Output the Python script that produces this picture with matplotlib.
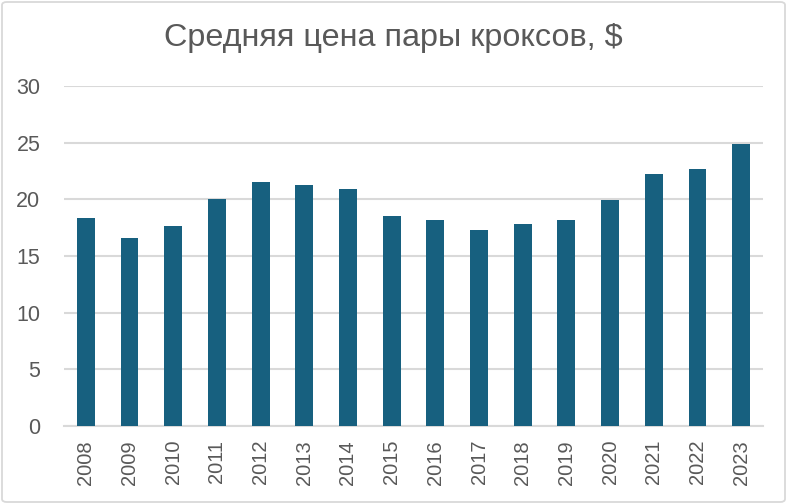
import matplotlib.pyplot as plt
from matplotlib.patches import FancyBboxPatch

# Average price of a pair of Crocs, USD
years = ["2008", "2009", "2010", "2011", "2012", "2013", "2014", "2015",
         "2016", "2017", "2018", "2019", "2020", "2021", "2022", "2023"]
prices = [18.34, 16.57, 17.63, 20.01, 21.51, 21.25, 20.89, 18.51,
          18.16, 17.28, 17.81, 18.16, 19.92, 22.22, 22.66, 24.86]
y_ticks = [0, 5, 10, 15, 20, 25, 30]

BAR_COLOR = "#17607f"
GRID_COLOR = "#d9d9d9"
TEXT_COLOR = "#595959"

plt.rcParams["font.family"] = ["Liberation Sans", "DejaVu Sans"]

fig = plt.figure(figsize=(7.87, 5.04), dpi=100)
ax = fig.add_axes([64 / 787, 78 / 504, 699 / 787, 340 / 504])

x = range(len(years))
ax.bar(x, prices, width=0.41, color=BAR_COLOR, zorder=3)

ax.set_xlim(-0.5, len(years) - 0.5)
ax.set_ylim(0, 30)
ax.set_yticks(y_ticks)
ax.set_yticklabels([str(t) for t in y_ticks])
ax.set_xticks(list(x))
ax.set_xticklabels(years, rotation=90)
ax.tick_params(axis="y", length=0, pad=17, labelsize=15.5, labelcolor=TEXT_COLOR)
ax.tick_params(axis="x", length=0, pad=10, labelsize=14.5, labelcolor=TEXT_COLOR)
ax.grid(axis="y", color=GRID_COLOR, linewidth=1.5, zorder=0)
for side in ["top", "right", "left"]:
    ax.spines[side].set_visible(False)
ax.spines["bottom"].set_color(GRID_COLOR)
ax.spines["bottom"].set_linewidth(1.5)

fig.text(0.5, 1 - 38 / 504, "Средняя цена пары кроксов, $", ha="center", va="center",
         fontsize=23.3, color=TEXT_COLOR)

# light frame around the whole chart
fig.patches.append(FancyBboxPatch((2 / 787, 2 / 504), 783 / 787, 500 / 504,
                                  boxstyle="round,pad=0,rounding_size=0.006",
                                  transform=fig.transFigure, fill=False,
                                  edgecolor=GRID_COLOR, linewidth=1.3))

fig.savefig("out.png", dpi=100)
